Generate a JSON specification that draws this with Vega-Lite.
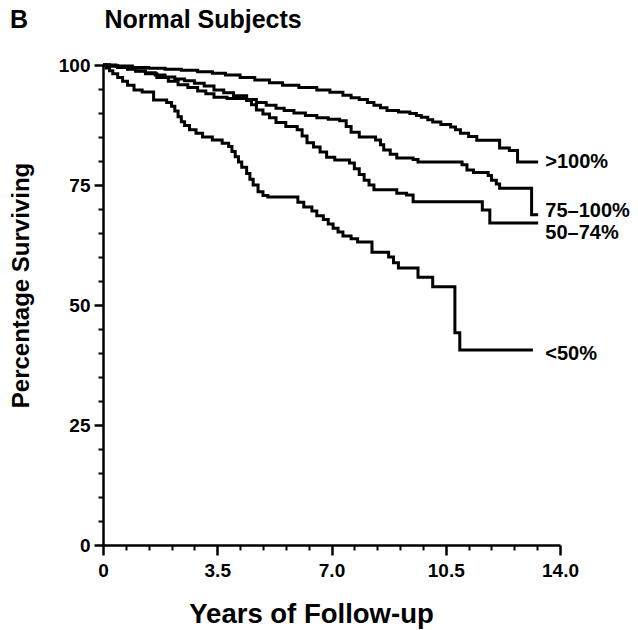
{
  "$schema": "https://vega.github.io/schema/vega-lite/v6.json",
  "width": 457,
  "height": 480,
  "autosize": {"type": "none"},
  "padding": {"left": 103, "top": 65, "right": 78, "bottom": 85},
  "background": "white",
  "title": {
    "text": "B\u00a0\u00a0\u00a0\u00a0\u00a0\u00a0\u00a0\u00a0\u00a0\u00a0\u00a0Normal Subjects",
    "anchor": "start",
    "frame": "group",
    "dx": -93,
    "font": "Liberation Sans",
    "fontSize": 25,
    "fontWeight": "bold",
    "color": "black",
    "baseline": "top",
    "offset": 23
  },
  "config": {"view": {"stroke": null}, "font": "Liberation Sans"},
  "datasets": {
    "curves": [
      {"group": ">100%", "t": 0, "s": 100},
      {"group": ">100%", "t": 0.4, "s": 99.8},
      {"group": ">100%", "t": 0.9, "s": 99.5},
      {"group": ">100%", "t": 1.4, "s": 99.3},
      {"group": ">100%", "t": 1.9, "s": 99.1},
      {"group": ">100%", "t": 2.4, "s": 98.9},
      {"group": ">100%", "t": 2.9, "s": 98.6},
      {"group": ">100%", "t": 3.35, "s": 98.3},
      {"group": ">100%", "t": 3.75, "s": 97.9},
      {"group": ">100%", "t": 4.2, "s": 97.4},
      {"group": ">100%", "t": 4.65, "s": 96.9},
      {"group": ">100%", "t": 5.1, "s": 96.3},
      {"group": ">100%", "t": 5.5, "s": 95.8},
      {"group": ">100%", "t": 6.0, "s": 95.3},
      {"group": ">100%", "t": 6.55, "s": 94.8},
      {"group": ">100%", "t": 6.95, "s": 94.3},
      {"group": ">100%", "t": 7.35, "s": 93.7},
      {"group": ">100%", "t": 7.6, "s": 93.2},
      {"group": ">100%", "t": 7.85, "s": 92.8},
      {"group": ">100%", "t": 8.1, "s": 92.2},
      {"group": ">100%", "t": 8.3, "s": 91.6},
      {"group": ">100%", "t": 8.5, "s": 91.1},
      {"group": ">100%", "t": 8.7, "s": 90.5},
      {"group": ">100%", "t": 9.05, "s": 90.2},
      {"group": ">100%", "t": 9.4, "s": 89.9},
      {"group": ">100%", "t": 9.6, "s": 89.5},
      {"group": ">100%", "t": 9.75, "s": 89.1},
      {"group": ">100%", "t": 9.95, "s": 88.6},
      {"group": ">100%", "t": 10.1, "s": 88.1},
      {"group": ">100%", "t": 10.35, "s": 87.6},
      {"group": ">100%", "t": 10.65, "s": 87.1},
      {"group": ">100%", "t": 10.8, "s": 86.5},
      {"group": ">100%", "t": 10.95, "s": 85.8},
      {"group": ">100%", "t": 11.2, "s": 85.1},
      {"group": ">100%", "t": 11.45, "s": 84.3},
      {"group": ">100%", "t": 12.15, "s": 82.7},
      {"group": ">100%", "t": 12.45, "s": 82.2},
      {"group": ">100%", "t": 12.7, "s": 79.8},
      {"group": ">100%", "t": 13.33, "s": 79.8},

      {"group": "75-100%", "t": 0, "s": 100},
      {"group": "75-100%", "t": 0.2, "s": 99.8},
      {"group": "75-100%", "t": 0.45, "s": 99.5},
      {"group": "75-100%", "t": 0.75, "s": 99.2},
      {"group": "75-100%", "t": 1.0, "s": 98.8},
      {"group": "75-100%", "t": 1.3, "s": 98.4},
      {"group": "75-100%", "t": 1.6, "s": 97.9},
      {"group": "75-100%", "t": 1.9, "s": 97.5},
      {"group": "75-100%", "t": 2.2, "s": 97.1},
      {"group": "75-100%", "t": 2.5, "s": 96.7},
      {"group": "75-100%", "t": 2.8, "s": 96.2},
      {"group": "75-100%", "t": 3.1, "s": 95.6},
      {"group": "75-100%", "t": 3.4, "s": 94.8},
      {"group": "75-100%", "t": 3.7, "s": 94.2},
      {"group": "75-100%", "t": 4.0, "s": 93.6},
      {"group": "75-100%", "t": 4.4, "s": 92.8},
      {"group": "75-100%", "t": 4.7, "s": 92.2},
      {"group": "75-100%", "t": 5.0, "s": 91.6},
      {"group": "75-100%", "t": 5.3, "s": 91.0},
      {"group": "75-100%", "t": 5.55, "s": 90.5},
      {"group": "75-100%", "t": 5.85, "s": 90.0},
      {"group": "75-100%", "t": 6.2, "s": 89.5},
      {"group": "75-100%", "t": 6.55, "s": 89.0},
      {"group": "75-100%", "t": 6.9, "s": 88.7},
      {"group": "75-100%", "t": 7.25, "s": 88.4},
      {"group": "75-100%", "t": 7.45, "s": 87.2},
      {"group": "75-100%", "t": 7.6, "s": 86.0},
      {"group": "75-100%", "t": 7.85, "s": 85.0},
      {"group": "75-100%", "t": 8.35, "s": 84.4},
      {"group": "75-100%", "t": 8.5, "s": 83.4},
      {"group": "75-100%", "t": 8.6, "s": 82.3},
      {"group": "75-100%", "t": 8.8, "s": 81.4},
      {"group": "75-100%", "t": 9.0, "s": 80.6},
      {"group": "75-100%", "t": 9.5, "s": 80.3},
      {"group": "75-100%", "t": 9.65, "s": 79.8},
      {"group": "75-100%", "t": 11.0, "s": 79.2},
      {"group": "75-100%", "t": 11.15, "s": 78.1},
      {"group": "75-100%", "t": 11.35, "s": 77.6},
      {"group": "75-100%", "t": 11.8, "s": 77.0},
      {"group": "75-100%", "t": 11.9, "s": 76.0},
      {"group": "75-100%", "t": 12.05, "s": 75.2},
      {"group": "75-100%", "t": 12.15, "s": 74.3},
      {"group": "75-100%", "t": 13.13, "s": 68.8},
      {"group": "75-100%", "t": 13.33, "s": 68.8},

      {"group": "50-74%", "t": 0, "s": 100},
      {"group": "50-74%", "t": 0.2, "s": 99.8},
      {"group": "50-74%", "t": 0.45, "s": 99.5},
      {"group": "50-74%", "t": 0.75, "s": 99.1},
      {"group": "50-74%", "t": 1.0, "s": 98.7},
      {"group": "50-74%", "t": 1.3, "s": 98.2},
      {"group": "50-74%", "t": 1.65, "s": 97.4},
      {"group": "50-74%", "t": 2.0, "s": 96.6},
      {"group": "50-74%", "t": 2.3, "s": 95.9},
      {"group": "50-74%", "t": 2.6, "s": 95.3},
      {"group": "50-74%", "t": 2.9, "s": 94.6},
      {"group": "50-74%", "t": 3.15, "s": 94.0},
      {"group": "50-74%", "t": 3.4, "s": 93.3},
      {"group": "50-74%", "t": 3.8, "s": 93.0},
      {"group": "50-74%", "t": 4.4, "s": 92.6},
      {"group": "50-74%", "t": 4.55, "s": 91.7},
      {"group": "50-74%", "t": 4.7, "s": 90.6},
      {"group": "50-74%", "t": 4.9, "s": 89.8},
      {"group": "50-74%", "t": 5.1, "s": 89.0},
      {"group": "50-74%", "t": 5.3, "s": 88.0},
      {"group": "50-74%", "t": 5.6, "s": 87.2},
      {"group": "50-74%", "t": 5.95, "s": 86.5},
      {"group": "50-74%", "t": 6.1, "s": 85.2},
      {"group": "50-74%", "t": 6.25, "s": 83.8},
      {"group": "50-74%", "t": 6.45, "s": 82.9},
      {"group": "50-74%", "t": 6.65, "s": 81.9},
      {"group": "50-74%", "t": 6.85, "s": 80.8},
      {"group": "50-74%", "t": 7.1, "s": 80.2},
      {"group": "50-74%", "t": 7.55, "s": 79.6},
      {"group": "50-74%", "t": 7.7, "s": 78.4},
      {"group": "50-74%", "t": 7.85, "s": 77.2},
      {"group": "50-74%", "t": 8.0, "s": 76.0},
      {"group": "50-74%", "t": 8.15, "s": 75.0},
      {"group": "50-74%", "t": 8.3, "s": 74.0},
      {"group": "50-74%", "t": 9.0, "s": 73.3},
      {"group": "50-74%", "t": 9.3, "s": 72.9},
      {"group": "50-74%", "t": 9.5, "s": 71.5},
      {"group": "50-74%", "t": 11.62, "s": 69.8},
      {"group": "50-74%", "t": 11.85, "s": 67.1},
      {"group": "50-74%", "t": 13.33, "s": 67.1},

      {"group": "<50%", "t": 0, "s": 100},
      {"group": "<50%", "t": 0.1, "s": 99.4},
      {"group": "<50%", "t": 0.2, "s": 98.8},
      {"group": "<50%", "t": 0.3, "s": 98.2},
      {"group": "<50%", "t": 0.45, "s": 97.4},
      {"group": "<50%", "t": 0.6, "s": 96.6},
      {"group": "<50%", "t": 0.75, "s": 95.8},
      {"group": "<50%", "t": 0.95, "s": 94.8},
      {"group": "<50%", "t": 1.2, "s": 94.4},
      {"group": "<50%", "t": 1.55, "s": 92.7},
      {"group": "<50%", "t": 1.95, "s": 92.2},
      {"group": "<50%", "t": 2.1, "s": 91.4},
      {"group": "<50%", "t": 2.2, "s": 90.4},
      {"group": "<50%", "t": 2.3, "s": 89.2},
      {"group": "<50%", "t": 2.4, "s": 88.2},
      {"group": "<50%", "t": 2.5, "s": 87.4},
      {"group": "<50%", "t": 2.65, "s": 86.5},
      {"group": "<50%", "t": 2.85, "s": 85.8},
      {"group": "<50%", "t": 3.05, "s": 85.0},
      {"group": "<50%", "t": 3.35, "s": 84.4},
      {"group": "<50%", "t": 3.65, "s": 83.7},
      {"group": "<50%", "t": 3.85, "s": 83.0},
      {"group": "<50%", "t": 3.95, "s": 82.0},
      {"group": "<50%", "t": 4.05, "s": 80.9},
      {"group": "<50%", "t": 4.15, "s": 79.8},
      {"group": "<50%", "t": 4.25, "s": 78.7},
      {"group": "<50%", "t": 4.4, "s": 77.4},
      {"group": "<50%", "t": 4.5, "s": 76.2},
      {"group": "<50%", "t": 4.6, "s": 75.0},
      {"group": "<50%", "t": 4.75, "s": 73.6},
      {"group": "<50%", "t": 4.9, "s": 72.8},
      {"group": "<50%", "t": 5.05, "s": 72.5},
      {"group": "<50%", "t": 5.97, "s": 71.4},
      {"group": "<50%", "t": 6.15, "s": 70.4},
      {"group": "<50%", "t": 6.4, "s": 69.6},
      {"group": "<50%", "t": 6.55, "s": 68.6},
      {"group": "<50%", "t": 6.75, "s": 67.8},
      {"group": "<50%", "t": 6.9, "s": 66.9},
      {"group": "<50%", "t": 7.05, "s": 66.0},
      {"group": "<50%", "t": 7.2, "s": 65.2},
      {"group": "<50%", "t": 7.35, "s": 64.4},
      {"group": "<50%", "t": 7.6, "s": 63.8},
      {"group": "<50%", "t": 7.8, "s": 63.1},
      {"group": "<50%", "t": 8.24, "s": 61.0},
      {"group": "<50%", "t": 8.75, "s": 60.0},
      {"group": "<50%", "t": 8.9, "s": 58.8},
      {"group": "<50%", "t": 9.05, "s": 57.7},
      {"group": "<50%", "t": 9.65, "s": 55.8},
      {"group": "<50%", "t": 10.1, "s": 53.8},
      {"group": "<50%", "t": 10.78, "s": 44.2},
      {"group": "<50%", "t": 10.93, "s": 40.6},
      {"group": "<50%", "t": 13.17, "s": 40.6}
    ],
    "labels": [
      {"label": ">100%", "t": 13.55, "s": 79.8},
      {"label": "75–100%", "t": 13.55, "s": 69.6},
      {"label": "50–74%", "t": 13.55, "s": 65.1},
      {"label": "<50%", "t": 13.55, "s": 39.8}
    ]
  },
  "layer": [
    {
      "data": {"name": "curves"},
      "mark": {"type": "line", "interpolate": "step-after", "color": "black", "strokeWidth": 3, "clip": false},
      "encoding": {
        "x": {
          "field": "t", "type": "quantitative",
          "scale": {"domain": [0, 14], "nice": false},
          "axis": {
            "orient": "bottom",
            "values": [0, 3.5, 7, 10.5, 14],
            "labelExpr": "datum.value == 0 ? '0' : format(datum.value, '.1f')",
            "grid": false,
            "domainColor": "black", "domainWidth": 2.5,
            "tickColor": "black", "tickWidth": 2.5, "tickSize": 10,
            "labelFont": "Liberation Sans", "labelFontWeight": "bold", "labelFontSize": 19, "labelColor": "black",
            "labelPadding": 6, "labelFlush": false, "labelOverlap": false,
            "title": "Years of Follow-up",
            "titleFont": "Liberation Sans", "titleFontWeight": "bold", "titleFontSize": 27.5, "titleColor": "black",
            "titleX": 208, "titleY": 77, "titleBaseline": "alphabetic", "titleAlign": "center"
          }
        },
        "y": {
          "field": "s", "type": "quantitative",
          "scale": {"domain": [0, 100], "nice": false},
          "axis": {
            "orient": "left",
            "values": [0, 25, 50, 75, 100],
            "grid": false,
            "domainColor": "black", "domainWidth": 2.5,
            "tickColor": "black", "tickWidth": 2.5, "tickSize": 9,
            "labelFont": "Liberation Sans", "labelFontWeight": "bold", "labelFontSize": 19, "labelColor": "black",
            "labelPadding": 4, "labelFlush": false, "labelOverlap": false,
            "title": "Percentage Surviving",
            "titleFont": "Liberation Sans", "titleFontWeight": "bold", "titleFontSize": 24, "titleColor": "black",
            "titleX": -75, "titleY": 220, "titleBaseline": "alphabetic", "titleAlign": "center", "titleAngle": -90
          }
        },
        "detail": {"field": "group", "type": "nominal"}
      }
    },
    {
      "data": {"name": "labels"},
      "mark": {"type": "text", "align": "left", "baseline": "middle", "font": "Liberation Sans", "fontWeight": "bold", "fontSize": 20, "color": "black", "clip": false},
      "encoding": {
        "x": {
          "field": "t", "type": "quantitative",
          "scale": {"domain": [0, 14], "nice": false},
          "axis": {
            "orient": "bottom",
            "values": [0.7, 1.4, 2.1, 2.8, 4.2, 4.9, 5.6, 6.3, 7.7, 8.4, 9.1, 9.8, 11.2, 11.9, 12.6, 13.3],
            "labels": false, "domain": false, "grid": false,
            "tickColor": "black", "tickWidth": 2, "tickSize": 5,
            "title": null
          }
        },
        "y": {
          "field": "s", "type": "quantitative",
          "scale": {"domain": [0, 100], "nice": false},
          "axis": {
            "orient": "left",
            "values": [5, 10, 15, 20, 30, 35, 40, 45, 55, 60, 65, 70, 80, 85, 90, 95],
            "labels": false, "domain": false, "grid": false,
            "tickColor": "black", "tickWidth": 2, "tickSize": 5,
            "title": null
          }
        },
        "text": {"field": "label", "type": "nominal"}
      }
    }
  ],
  "resolve": {"axis": {"x": "independent", "y": "independent"}}
}
